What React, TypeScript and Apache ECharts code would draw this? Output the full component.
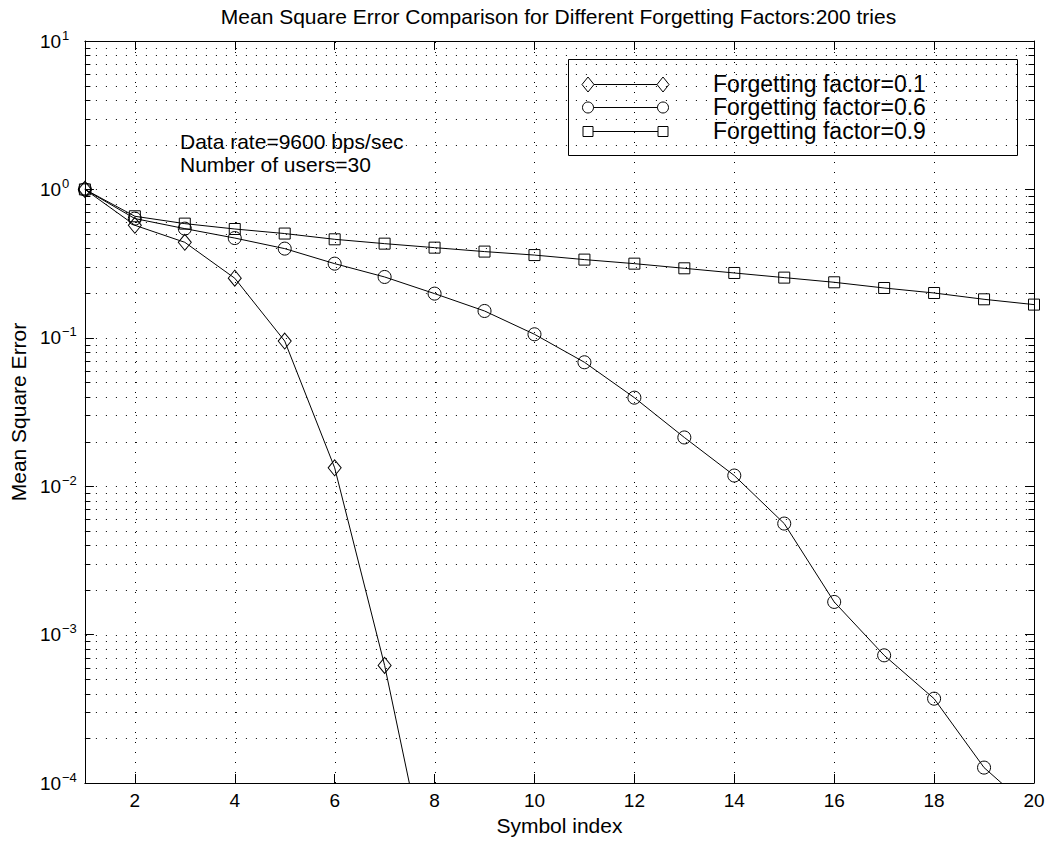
import React, { useEffect, useRef } from "react";
import * as echarts from "echarts";

// Symbol positions along the x axis
const symbolIndex = [1, 2, 3, 4, 5, 6, 7, 8, 9, 10, 11, 12, 13, 14, 15, 16, 17, 18, 19, 20];

// Mean square error for each forgetting factor
const mseFactor01 = [1.0, 0.573, 0.44, 0.252, 0.0951, 0.0133, 0.00062, 0.0000155];
const mseFactor06 = [
  1.0, 0.636, 0.544, 0.47, 0.399, 0.316, 0.257, 0.1985, 0.1516, 0.1056, 0.0684, 0.0395, 0.0213,
  0.0118, 0.0056, 0.00166, 0.000725, 0.00037, 0.000127, 0.000064,
];
const mseFactor09 = [
  1.0, 0.659, 0.588, 0.541, 0.504, 0.461, 0.431, 0.405, 0.381, 0.361, 0.3365, 0.316, 0.294, 0.2734,
  0.2544, 0.2366, 0.2166, 0.2004, 0.1817, 0.1674,
];

const seriesNames = ["Forgetting factor=0.1", "Forgetting factor=0.6", "Forgetting factor=0.9"];
const titleText = "Mean Square Error Comparison for Different Forgetting Factors:200 tries";
const annotationLines = ["Data rate=9600 bps/sec", "Number of users=30"];
const xAxisName = "Symbol index";
const yAxisName = "Mean Square Error";

// Axis ranges and tick values
const X_MIN = 1;
const X_MAX = 20;
const Y_MIN = 1e-4;
const Y_MAX = 10;
const xTickValues = [2, 4, 6, 8, 10, 12, 14, 16, 18, 20];
const yDecades = [-4, -3, -2, -1, 0];
const minorMultipliers = [2, 3, 4, 5, 6, 7, 8, 9];

const FONT = "'Liberation Sans', Arial, Helvetica, sans-serif";

// Horizontal grid values: [x, y, isMajor]
const yGridData: number[][] = [];
yDecades.forEach((d) => {
  const base = Math.pow(10, d);
  if (d > -4) yGridData.push([X_MIN, base, 1]);
  minorMultipliers.forEach((m) => yGridData.push([X_MIN, m * base, 0]));
});
// Vertical grid values: [x, y]
const xGridData: number[][] = xTickValues.filter((v) => v < X_MAX).map((v) => [v, 1]);

const toPairs = (values: number[]) => values.map((v, i) => [symbolIndex[i], v]);

function expLabel(value: number) {
  const e = Math.round(Math.log10(value));
  const s = e < 0 ? "\u2212" + String(-e) : String(e);
  return "{b|10}{e|" + s + "}";
}

const dotted = { stroke: "#000", lineWidth: 1, lineDash: [1, 9] };

function buildOption(): echarts.EChartsOption {
  const markerItem = { color: "rgba(0,0,0,0)", borderColor: "#000", borderWidth: 1 };
  const lineSeries = (name: string, values: number[], symbol: string, size: any) => ({
    type: "line",
    name,
    data: toPairs(values),
    symbol,
    symbolSize: size,
    showSymbol: true,
    showAllSymbol: true,
    silent: true,
    z: 5,
    lineStyle: { color: "#000", width: 1 },
    itemStyle: markerItem,
    emphasis: { disabled: true },
  });

  const legendRows = [83.5, 107, 130.5];
  const legendLeft = 588;
  const legendRight = 663;
  const legendMarker = (kind: string, cx: number, cy: number) => {
    if (kind === "diamond") {
      return {
        type: "polygon",
        shape: { points: [[cx, cy - 7.5], [cx + 6, cy], [cx, cy + 7.5], [cx - 6, cy]] },
        style: { fill: "#fff", stroke: "#000", lineWidth: 1 },
      };
    }
    if (kind === "circle") {
      return { type: "circle", shape: { cx, cy, r: 5.5 }, style: { fill: "#fff", stroke: "#000", lineWidth: 1 } };
    }
    return {
      type: "rect",
      shape: { x: cx - 5, y: cy - 5, width: 10, height: 10 },
      style: { fill: "#fff", stroke: "#000", lineWidth: 1 },
    };
  };
  const kinds = ["diamond", "circle", "rect"];
  const legendChildren: any[] = [
    {
      type: "rect",
      shape: { x: 568.5, y: 59.5, width: 449, height: 96 },
      style: { fill: "#fff", stroke: "#000", lineWidth: 1 },
    },
  ];
  seriesNames.forEach((name, i) => {
    const y = Math.round(legendRows[i]) + 0.5;
    legendChildren.push({
      type: "line",
      shape: { x1: legendLeft, y1: y, x2: legendRight, y2: y },
      style: { stroke: "#000", lineWidth: 1 },
    });
    legendChildren.push(legendMarker(kinds[i], legendLeft, y));
    legendChildren.push(legendMarker(kinds[i], legendRight, y));
    legendChildren.push({
      type: "text",
      x: 713,
      y: legendRows[i],
      style: { text: name, font: `23px ${FONT}`, fill: "#000", textVerticalAlign: "middle" },
    });
  });

  return {
    animation: false,
    backgroundColor: "#fff",
    grid: { left: 83, right: 17, top: 41, bottom: 58, containLabel: false },
    xAxis: [
      {
        type: "value",
        min: X_MIN,
        max: X_MAX,
        position: "bottom",
        axisLine: { show: true, lineStyle: { color: "#000", width: 1 } },
        axisTick: { show: true, inside: true, length: 9, customValues: xTickValues, lineStyle: { color: "#000" } },
        axisLabel: { customValues: xTickValues, color: "#000", fontSize: 19, fontFamily: FONT, margin: 8 },
        splitLine: { show: false },
        name: xAxisName,
        nameLocation: "middle",
        nameGap: 30,
        nameTextStyle: { color: "#000", fontSize: 21, fontFamily: FONT },
      },
      {
        type: "value",
        min: X_MIN,
        max: X_MAX,
        position: "top",
        axisLine: { show: true, lineStyle: { color: "#000", width: 1 } },
        axisTick: { show: true, inside: true, length: 9, customValues: xTickValues, lineStyle: { color: "#000" } },
        axisLabel: { show: false },
        splitLine: { show: false },
      },
    ],
    yAxis: [
      {
        type: "log",
        logBase: 10,
        min: Y_MIN,
        max: Y_MAX,
        position: "left",
        axisLine: { show: true, lineStyle: { color: "#000", width: 1 } },
        axisTick: { show: true, inside: true, length: 9, lineStyle: { color: "#000" } },
        axisLabel: {
          formatter: (v: number) => expLabel(v),
          align: "left",
          margin: 45,
          rich: {
            b: { fontSize: 19, fontFamily: FONT, color: "#000" },
            e: { fontSize: 13, fontFamily: FONT, color: "#000", padding: [0, 0, 12, 1] },
          },
        },
        splitLine: { show: false },
        name: yAxisName,
        nameLocation: "middle",
        nameGap: 53,
        nameTextStyle: { color: "#000", fontSize: 21, fontFamily: FONT },
      },
      {
        type: "log",
        logBase: 10,
        min: Y_MIN,
        max: Y_MAX,
        position: "right",
        axisLine: { show: true, lineStyle: { color: "#000", width: 1 } },
        axisTick: { show: true, inside: true, length: 9, lineStyle: { color: "#000" } },
        axisLabel: { show: false },
        splitLine: { show: false },
      },
    ],
    series: [
      {
        type: "custom",
        name: "yGrid",
        silent: true,
        z: 1,
        data: yGridData,
        renderItem: (_params: any, api: any) => {
          const v = api.value(1);
          const major = api.value(2) === 1;
          const a = api.coord([X_MIN, v]);
          const b = api.coord([X_MAX, v]);
          const y = Math.round(a[1]) + 0.5;
          const children: any[] = [
            { type: "line", shape: { x1: a[0] + 1, y1: y, x2: b[0], y2: y }, style: dotted },
          ];
          if (!major) {
            children.push({
              type: "line",
              shape: { x1: a[0], y1: y, x2: a[0] + 5.5, y2: y },
              style: { stroke: "#000", lineWidth: 1 },
            });
            children.push({
              type: "line",
              shape: { x1: b[0] - 5.5, y1: y, x2: b[0], y2: y },
              style: { stroke: "#000", lineWidth: 1 },
            });
          }
          return { type: "group", children };
        },
      },
      {
        type: "custom",
        name: "xGrid",
        silent: true,
        z: 1,
        data: xGridData,
        renderItem: (_params: any, api: any) => {
          const v = api.value(0);
          const a = api.coord([v, Y_MAX]);
          const b = api.coord([v, Y_MIN]);
          const x = Math.round(a[0]) + 0.5;
          return { type: "line", shape: { x1: x, y1: a[1] + 1, x2: x, y2: b[1] }, style: dotted };
        },
      },
      lineSeries(seriesNames[0], mseFactor01, "diamond", [13, 16]),
      lineSeries(seriesNames[1], mseFactor06, "circle", 13),
      lineSeries(seriesNames[2], mseFactor09, "rect", 11),
    ] as any,
    graphic: [
      {
        type: "text",
        x: 558.5,
        y: 16,
        style: {
          text: titleText,
          font: `21px ${FONT}`,
          fill: "#000",
          textAlign: "center",
          textVerticalAlign: "middle",
        },
      },
      {
        type: "text",
        x: 180,
        y: 141,
        z: 10,
        style: { text: annotationLines[0], font: `21px ${FONT}`, fill: "#000", textVerticalAlign: "middle" },
      },
      {
        type: "text",
        x: 180,
        y: 164,
        z: 10,
        style: { text: annotationLines[1], font: `21px ${FONT}`, fill: "#000", textVerticalAlign: "middle" },
      },
      { type: "group", z: 20, children: legendChildren },
    ] as any,
  };
}

export default function App() {
  const ref = useRef<HTMLDivElement>(null);
  useEffect(() => {
    if (!ref.current) return;
    const chart = echarts.init(ref.current, undefined, { renderer: "svg" });
    chart.setOption(buildOption());
    return () => chart.dispose();
  }, []);
  return (
    <div
      ref={ref}
      style={{ position: "fixed", left: 0, top: 0, width: 1051, height: 841, background: "#fff" }}
    />
  );
}
